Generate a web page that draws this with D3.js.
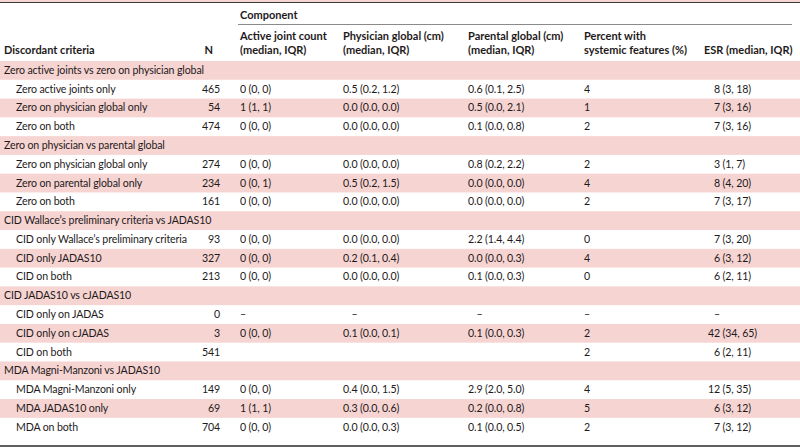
<!DOCTYPE html>
<html>
<head>
<meta charset="utf-8">
<script src="https://cdn.jsdelivr.net/npm/d3@7/dist/d3.min.js"></script>
<style>
  html, body { margin: 0; padding: 0; background: #fff; }
  svg { display: block; }
  text { font-family: Lato, "Open Sans", "Noto Sans", sans-serif; font-size: 10.6px; letter-spacing: -0.12px; fill: #1e1a1b; }
  .hd { font-weight: 700; font-size: 11px; letter-spacing: 0; }
</style>
</head>
<body>
<svg id="chart" width="800" height="447"></svg>
<script>
// ---------- data ----------
const sections = [
  "Zero active joints vs zero on physician global",
  "Zero on physician vs parental global",
  "CID Wallace\u2019s preliminary criteria vs JADAS10",
  "CID JADAS10 vs cJADAS10",
  "MDA Magni-Manzoni vs JADAS10"
];
const rowLabels = [
  ["Zero active joints only", "Zero on physician global only", "Zero on both"],
  ["Zero on physician global only", "Zero on parental global only", "Zero on both"],
  ["CID only Wallace\u2019s preliminary criteria", "CID only JADAS10", "CID on both"],
  ["CID only on JADAS", "CID only on cJADAS", "CID on both"],
  ["MDA Magni-Manzoni only", "MDA JADAS10 only", "MDA on both"]
];
const nValues = [[465, 54, 474], [274, 234, 161], [93, 327, 213], [0, 3, 541], [149, 69, 704]];
const activeJoint = [
  ["0 (0, 0)", "1 (1, 1)", "0 (0, 0)"],
  ["0 (0, 0)", "0 (0, 1)", "0 (0, 0)"],
  ["0 (0, 0)", "0 (0, 0)", "0 (0, 0)"],
  ["\u2013", "0 (0, 0)", ""],
  ["0 (0, 0)", "1 (1, 1)", "0 (0, 0)"]
];
const physicianGlobal = [
  ["0.5 (0.2, 1.2)", "0.0 (0.0, 0.0)", "0.0 (0.0, 0.0)"],
  ["0.0 (0.0, 0.0)", "0.5 (0.2, 1.5)", "0.0 (0.0, 0.0)"],
  ["0.0 (0.0, 0.0)", "0.2 (0.1, 0.4)", "0.0 (0.0, 0.0)"],
  ["\u2013", "0.1 (0.0, 0.1)", ""],
  ["0.4 (0.0, 1.5)", "0.3 (0.0, 0.6)", "0.0 (0.0, 0.3)"]
];
const parentalGlobal = [
  ["0.6 (0.1, 2.5)", "0.5 (0.0, 2.1)", "0.1 (0.0, 0.8)"],
  ["0.8 (0.2, 2.2)", "0.0 (0.0, 0.0)", "0.0 (0.0, 0.0)"],
  ["2.2 (1.4, 4.4)", "0.0 (0.0, 0.3)", "0.1 (0.0, 0.3)"],
  ["\u2013", "0.1 (0.0, 0.3)", ""],
  ["2.9 (2.0, 5.0)", "0.2 (0.0, 0.8)", "0.1 (0.0, 0.5)"]
];
const percentSystemic = [
  ["4", "1", "2"],
  ["2", "4", "2"],
  ["0", "4", "0"],
  ["\u2013", "2", "2"],
  ["4", "5", "2"]
];
const esr = [
  ["8 (3, 18)", "7 (3, 16)", "7 (3, 16)"],
  ["3 (1, 7)", "8 (4, 20)", "7 (3, 17)"],
  ["7 (3, 20)", "6 (3, 12)", "6 (2, 11)"],
  ["\u2013", "42 (34, 65)", "6 (2, 11)"],
  ["12 (5, 35)", "6 (3, 12)", "7 (3, 12)"]
];
const groupHeader = "Component";
const colHeaders = [
  ["", "Discordant criteria"],
  ["", "N"],
  ["Active joint count", "(median, IQR)"],
  ["Physician global (cm)", "(median, IQR)"],
  ["Parental global (cm)", "(median, IQR)"],
  ["Percent with", "systemic features (%)"],
  ["", "ESR (median, IQR)"]
];

// ---------- build rows ----------
const rows = [];
sections.forEach((s, si) => {
  rows.push({ type: "section", label: s });
  rowLabels[si].forEach((lab, ri) => {
    rows.push({
      type: "data", label: lab, n: nValues[si][ri],
      cells: [activeJoint[si][ri], physicianGlobal[si][ri], parentalGlobal[si][ri], percentSystemic[si][ri], esr[si][ri]]
    });
  });
});

const W = 800, H = 447;
const svg = d3.select("#chart");
const rowH = 18.78, top0 = 61;
const y = d3.scaleBand().domain(d3.range(rows.length)).range([top0, top0 + rows.length * rowH]);
const colX = d3.scaleOrdinal()
  .domain(["label", "n", "active", "physician", "parental", "percent", "esr"])
  .range([4, 220, 240, 343, 468, 584, 704]);

// measuring helper
const meas = svg.append("text").attr("x", -999).attr("y", -999);
function tw(s) { meas.text(s); return meas.node().getComputedTextLength(); }

// stripes
svg.append("rect").attr("x", 0).attr("y", 0).attr("width", W).attr("height", 2).attr("fill", "#f6d4d2");
svg.selectAll("rect.band").data(d3.range(rows.length).filter(i => i % 2 === 0))
  .enter().append("rect").attr("class", "band")
  .attr("x", 0).attr("width", W)
  .attr("y", i => y(i)).attr("height", y.bandwidth())
  .attr("fill", "#f6d4d2");

// borders
svg.append("line").attr("x1", 0).attr("x2", W).attr("y1", 2.5).attr("y2", 2.5).attr("stroke", "#3a3a3a").attr("stroke-width", 1);
svg.append("line").attr("x1", 0).attr("x2", W).attr("y1", 446).attr("y2", 446).attr("stroke", "#2a2a2a").attr("stroke-width", 1.5);
svg.append("line").attr("x1", 238).attr("x2", 792).attr("y1", 24.5).attr("y2", 24.5).attr("stroke", "#8a8a8a").attr("stroke-width", 1);

// headers
svg.append("text").attr("class", "hd").attr("x", colX("active")).attr("y", 19).text(groupHeader);
const hdKeys = ["label", "n", "active", "physician", "parental", "percent", "esr"];
colHeaders.forEach((h, i) => {
  const k = hdKeys[i];
  const x = k === "n" ? 213 : colX(k);
  const anchor = k === "n" ? "end" : "start";
  h.forEach((line, li) => {
    if (!line) return;
    svg.append("text").attr("class", "hd").attr("x", x).attr("y", li === 0 ? 39.5 : 54)
      .attr("text-anchor", anchor).text(line);
  });
});

// anchors for median alignment
const medAnchor = {
  active: colX("active") + tw("0"),
  physician: colX("physician") + tw("0.0"),
  parental: colX("parental") + tw("0.0"),
  percent: colX("percent") + tw("0"),
  esr: 720
};
const cellKeys = ["active", "physician", "parental", "percent", "esr"];

const g = svg.append("g");
rows.forEach((r, i) => {
  const by = y(i) + 12.9;
  if (r.type === "section") {
    g.append("text").attr("x", colX("label")).attr("y", by).text(r.label);
    return;
  }
  g.append("text").attr("x", 16).attr("y", by).text(r.label);
  g.append("text").attr("x", colX("n")).attr("y", by).attr("text-anchor", "end").text(r.n);
  r.cells.forEach((c, ci) => {
    if (!c) return;
    const k = cellKeys[ci];
    const sp = c.indexOf(" ");
    const med = sp < 0 ? c : c.slice(0, sp);
    const rest = sp < 0 ? "" : c.slice(sp + 1);
    const ax = medAnchor[k];
    g.append("text").attr("x", ax).attr("y", by).attr("text-anchor", "end").text(med);
    if (rest) g.append("text").attr("x", ax).attr("y", by).text("\u00a0" + rest);
  });
});
meas.remove();
</script>
</body>
</html>
